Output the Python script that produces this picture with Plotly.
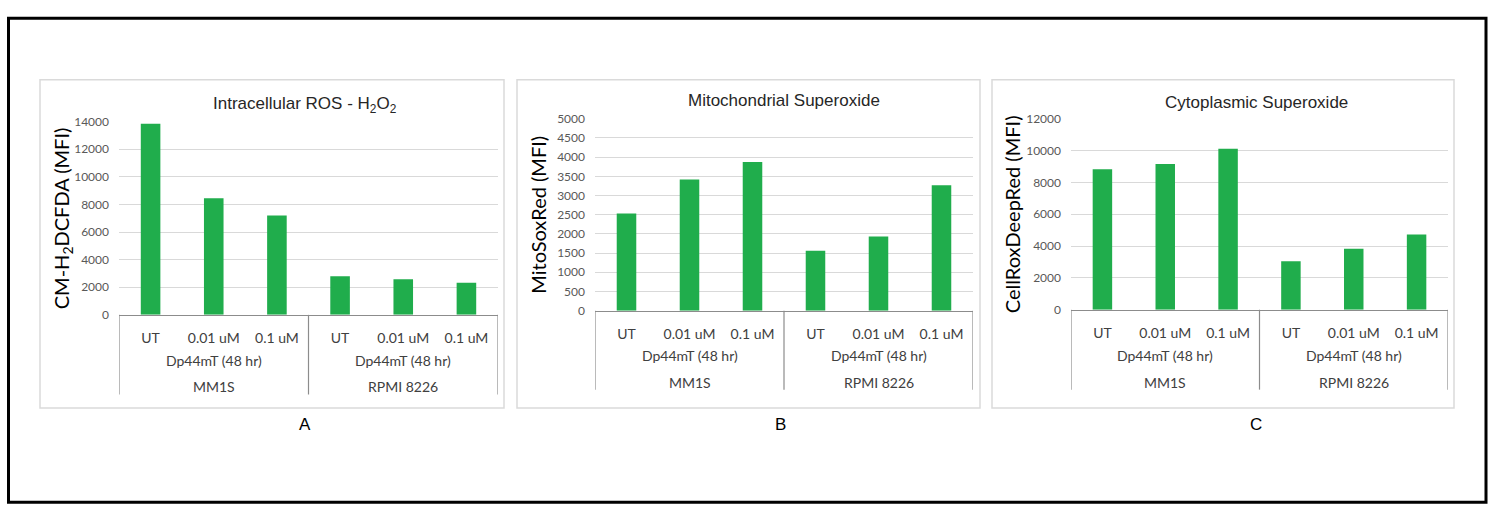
import plotly.graph_objects as go

# ---------------- data ----------------
conditions = ["UT", "0.01 uM", "0.1 uM", "UT", "0.01 uM", "0.1 uM"]
treatments = ["Dp44mT (48 hr)", "Dp44mT (48 hr)"]
cell_lines = ["MM1S", "RPMI 8226"]

ros_h2o2 = [13850, 8450, 7200, 2800, 2580, 2330]
mito_superoxide = [2530, 3415, 3870, 1560, 1930, 3270]
cyto_superoxide = [8830, 9150, 10110, 3050, 3830, 4720]

panel_titles = ["Intracellular ROS - H<sub>2</sub>O<sub>2</sub>",
                "Mitochondrial Superoxide",
                "Cytoplasmic Superoxide"]
y_titles = ["CM-H<sub>2</sub>DCFDA (MFI)", "MitoSoxRed (MFI)", "CellRoxDeepRed (MFI)"]
y_max = [14000, 5000, 12000]
y_dtick = [2000, 500, 2000]
panel_letters = ["A", "B", "C"]

# ---------------- layout helpers (pixel -> paper) ----------------
W, H = 1500, 519
def px(x):
    return x / W
def py(y):
    return 1 - y / H

# per-panel geometry in pixels
panels = [
    dict(box=(40, 74, 504, 412), plot=(119, 117, 498, 316), div_bottom=398, row2=363, row3=390,
         title=(305, 100), ytitle_x=62, letter=(305, 429)),
    dict(box=(517, 74, 980, 412), plot=(595, 114, 973, 311.7), div_bottom=393, row2=358, row3=386,
         title=(784, 95), ytitle_x=538, letter=(780, 429)),
    dict(box=(992, 74, 1454, 412), plot=(1071, 114, 1448, 310.7), div_bottom=393, row2=358, row3=386,
         title=(1256, 97), ytitle_x=1012, letter=(1256, 429)),
]

series = [ros_h2o2, mito_superoxide, cyto_superoxide]
GREEN = "#20AD4C"
TXT = "#595959"
AXIS = "#8c8c8c"
GRID = "#d9d9d9"

fig = go.Figure()
shapes = []
annotations = []

n_per_group = len(conditions) // len(cell_lines)
x_pos = list(range(len(conditions)))

for i, p in enumerate(panels):
    xa = "x" if i == 0 else f"x{i+1}"
    ya = "y" if i == 0 else f"y{i+1}"
    fig.add_trace(go.Bar(x=x_pos, y=series[i], marker=dict(color=GREEN, line=dict(width=0)),
                         xaxis=xa, yaxis=ya, showlegend=False, hoverinfo="y"))
    x0, y0, x1, y1 = p["plot"]
    xkey = "xaxis" if i == 0 else f"xaxis{i+1}"
    ykey = "yaxis" if i == 0 else f"yaxis{i+1}"
    fig.layout[xkey] = dict(domain=[px(x0), px(x1)], anchor=ya, range=[-0.5, len(conditions) - 0.5],
                            tickmode="array", tickvals=x_pos, ticktext=conditions,
                            ticks="", ticklabelstandoff=10, showgrid=False, zeroline=False,
                            showline=True, linecolor=AXIS, linewidth=1.2,
                            tickfont=dict(family="Lato", size=14, color="#404040"), fixedrange=True)
    fig.layout[ykey] = dict(domain=[py(y1), py(y0)], anchor=xa, range=[0, y_max[i]], dtick=y_dtick[i],
                            tickmode="linear", tick0=0, ticks="", ticklabelstandoff=9, tickformat="d",
                            showgrid=True, gridcolor=GRID, gridwidth=1, zeroline=False, showline=False,
                            tickfont=dict(family="Lato", size=12, color=TXT), fixedrange=True)

    # panel frame
    bx0, by0, bx1, by1 = p["box"]
    shapes.append(dict(type="rect", xref="paper", yref="paper", x0=px(bx0), x1=px(bx1), y0=py(by1), y1=py(by0),
                       line=dict(color="#dadada", width=1.5), layer="below"))
    # category-axis group dividers
    for k in range(len(cell_lines) + 1):
        xd = k * n_per_group - 0.5
        shapes.append(dict(type="line", xref=xa, yref="paper", x0=xd, x1=xd, y0=py(y1), y1=py(p["div_bottom"]),
                           line=dict(color=AXIS, width=1.2)))
    # second and third label rows
    for g in range(len(cell_lines)):
        xc = g * n_per_group + (n_per_group - 1) / 2
        annotations.append(dict(x=xc, y=py(p["row2"]), xref=xa, yref="paper", text=treatments[g],
                                showarrow=False, xanchor="center", yanchor="middle",
                                font=dict(family="Lato", size=14, color="#404040")))
        annotations.append(dict(x=xc, y=py(p["row3"]), xref=xa, yref="paper", text=cell_lines[g],
                                showarrow=False, xanchor="center", yanchor="middle",
                                font=dict(family="Lato", size=14, color="#404040")))
    # panel title
    annotations.append(dict(x=px(p["title"][0]), y=py(p["title"][1]), xref="paper", yref="paper",
                            text=panel_titles[i], showarrow=False, xanchor="center", yanchor="middle",
                            font=dict(family="Liberation Sans, Arial", size=17, color="#262626")))
    # y-axis title
    annotations.append(dict(x=px(p["ytitle_x"]), y=py((y0 + y1) / 2), xref="paper", yref="paper",
                            text=y_titles[i], showarrow=False, textangle=-90, xanchor="center", yanchor="middle",
                            font=dict(family="Lato", size=20, color="#000000")))
    # panel letter
    annotations.append(dict(x=px(p["letter"][0]), y=py(p["letter"][1]), xref="paper", yref="paper",
                            text=panel_letters[i], showarrow=False, xanchor="center", yanchor="middle",
                            font=dict(family="Liberation Sans, Arial", size=17, color="#000000")))

# outer black frame
shapes.append(dict(type="rect", xref="paper", yref="paper", x0=px(8.5), x1=px(1486), y0=py(509), y1=py(10.5),
                   line=dict(color="#000000", width=3)))

fig.update_layout(width=W, height=H, margin=dict(l=0, r=0, t=0, b=0),
                  paper_bgcolor="white", plot_bgcolor="white", bargap=0.69,
                  shapes=shapes, annotations=annotations, showlegend=False)

fig.write_html("out.html", config={"displayModeBar": False})
